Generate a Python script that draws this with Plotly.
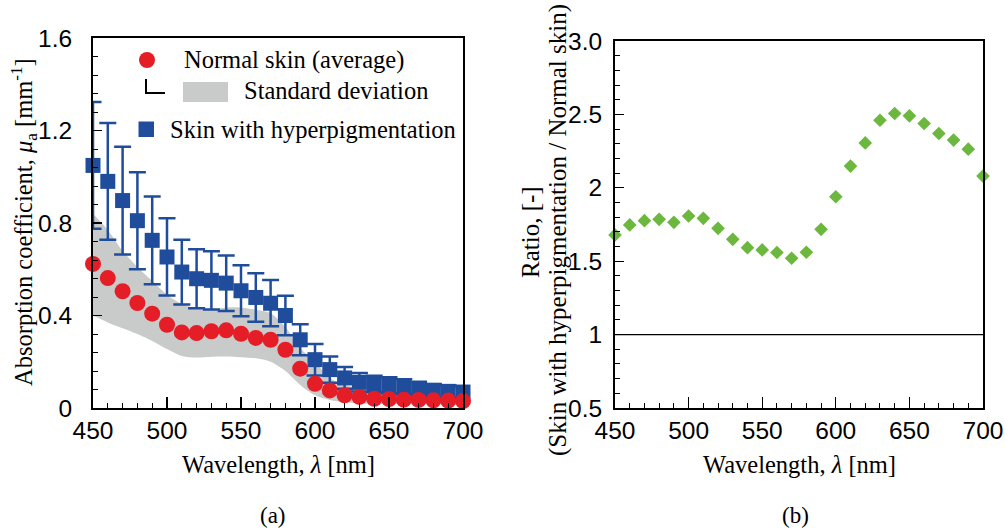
import plotly.graph_objects as go

# ---------------- data ----------------
wavelength = [450, 460, 470, 480, 490, 500, 510, 520, 530, 540, 550, 560, 570,
              580, 590, 600, 610, 620, 630, 640, 650, 660, 670, 680, 690, 700]

normal_mean = [0.623, 0.562, 0.505, 0.454, 0.408, 0.360, 0.327, 0.324, 0.332, 0.336,
               0.321, 0.303, 0.295, 0.252, 0.170, 0.105, 0.076, 0.055, 0.048, 0.040,
               0.039, 0.036, 0.035, 0.033, 0.032, 0.030]

normal_sd_upper = [0.84, 0.77, 0.68, 0.61, 0.55, 0.49, 0.45, 0.43, 0.425, 0.435,
                   0.435, 0.425, 0.41, 0.35, 0.26, 0.20, 0.13, 0.10, 0.085, 0.075,
                   0.07, 0.065, 0.06, 0.058, 0.055, 0.052]
normal_sd_lower = [0.40, 0.37, 0.345, 0.32, 0.29, 0.255, 0.225, 0.218, 0.222, 0.223,
                   0.22, 0.215, 0.20, 0.16, 0.10, 0.055, 0.035, 0.025, 0.02, 0.018,
                   0.017, 0.016, 0.015, 0.015, 0.015, 0.015]

hyper_mean = [1.049, 0.980, 0.897, 0.810, 0.725, 0.653, 0.588, 0.559, 0.552, 0.540,
              0.507, 0.478, 0.453, 0.400, 0.295, 0.209, 0.166, 0.130, 0.111, 0.104,
              0.098, 0.091, 0.084, 0.076, 0.072, 0.069]
hyper_sd = [0.274, 0.252, 0.233, 0.210, 0.190, 0.167, 0.140, 0.128, 0.126, 0.120,
            0.110, 0.105, 0.100, 0.085, 0.067, 0.068, 0.057, 0.047, 0.040, 0.036,
            0.035, 0.033, 0.030, 0.028, 0.025, 0.025]

ratio = [1.679, 1.747, 1.776, 1.785, 1.765, 1.808, 1.792, 1.724, 1.649, 1.592,
         1.577, 1.559, 1.520, 1.561, 1.717, 1.939, 2.148, 2.306, 2.460, 2.506,
         2.490, 2.438, 2.370, 2.325, 2.263, 2.080]

x_ticks = [450, 500, 550, 600, 650, 700]
x_ticktext = ["450", "500", "550", "600", "650", "700"]
y1_ticks = [0, 0.4, 0.8, 1.2, 1.6]
y1_ticktext = ["0", "0.4", "0.8", "1.2", "1.6"]
y2_ticks = [0.5, 1.0, 1.5, 2.0, 2.5, 3.0]
y2_ticktext = ["0.5", "1", "1.5", "2", "2.5", "3.0"]

# ---------------- styling ----------------
RED = "#e41d26"
BLUE = "#1f4d9c"
GREEN = "#6cb83f"
GRAY = "#c9caca"
SANS = "Liberation Sans, Arial, sans-serif"
SERIF = "Liberation Serif, Times New Roman, serif"
W, H = 1005, 529


def px(x):
    return x / W


def py(y):
    return 1 - y / H


fig = go.Figure()

# standard deviation band
fig.add_trace(go.Scatter(x=wavelength, y=normal_sd_lower, mode="lines",
                         line=dict(width=0, color=GRAY, shape="spline", smoothing=0.8),
                         hoverinfo="skip", showlegend=False, xaxis="x", yaxis="y"))
fig.add_trace(go.Scatter(x=wavelength, y=normal_sd_upper, mode="lines", fill="tonexty",
                         fillcolor=GRAY,
                         line=dict(width=0, color=GRAY, shape="spline", smoothing=0.8),
                         hoverinfo="skip", showlegend=False, xaxis="x", yaxis="y"))

# hyperpigmentation with error bars
fig.add_trace(go.Scatter(x=wavelength, y=hyper_mean, mode="markers",
                         marker=dict(symbol="square", size=15, color=BLUE),
                         error_y=dict(type="data", array=hyper_sd, visible=True,
                                      color=BLUE, thickness=2.5, width=8.5),
                         cliponaxis=False, showlegend=False, xaxis="x", yaxis="y"))

# normal skin mean
fig.add_trace(go.Scatter(x=wavelength, y=normal_mean, mode="markers",
                         marker=dict(symbol="circle", size=16, color=RED),
                         cliponaxis=False, showlegend=False, xaxis="x", yaxis="y"))

# ratio
fig.add_trace(go.Scatter(x=wavelength, y=ratio, mode="markers",
                         marker=dict(symbol="diamond", size=10.5, color=GREEN),
                         cliponaxis=False, showlegend=False, xaxis="x2", yaxis="y2"))

axis_common = dict(
    showline=True, linecolor="black", linewidth=2, mirror=True,
    ticks="inside", tickcolor="black", tickwidth=1.2,
    showgrid=False, zeroline=False, automargin=False,
    tickfont=dict(family=SANS, size=24.5, color="black"),
)

fig.update_layout(
    template="none",
    width=W, height=H,
    margin=dict(l=0, r=0, t=0, b=0, pad=0, autoexpand=False),
    paper_bgcolor="white", plot_bgcolor="white",
    showlegend=False,
    xaxis=dict(domain=[px(93), px(463)], range=[450, 700], anchor="y",
               tickvals=x_ticks, ticktext=x_ticktext, ticklen=11,
               minor=dict(dtick=10, tick0=450, ticks="inside", ticklen=5,
                          tickcolor="black", tickwidth=1),
               ticklabelstandoff=0, **axis_common),
    yaxis=dict(domain=[py(408), py(38)], range=[0, 1.6], anchor="x",
               tickvals=y1_ticks, ticktext=y1_ticktext, ticklen=9,
               minor=dict(dtick=0.08, tick0=0, ticks="inside", ticklen=5,
                          tickcolor="black", tickwidth=1),
               ticklabelstandoff=14, **axis_common),
    xaxis2=dict(domain=[px(615), px(983)], range=[450, 700], anchor="y2",
                tickvals=x_ticks, ticktext=x_ticktext, ticklen=11,
                minor=dict(dtick=10, tick0=450, ticks="inside", ticklen=5,
                           tickcolor="black", tickwidth=1),
                ticklabelstandoff=0, **axis_common),
    yaxis2=dict(domain=[py(408), py(41)], range=[0.5, 3.0], anchor="x2",
                tickvals=y2_ticks, ticktext=y2_ticktext, ticklen=9,
                minor=dict(dtick=0.1, tick0=0.5, ticks="inside", ticklen=5,
                           tickcolor="black", tickwidth=1),
                ticklabelstandoff=6, **axis_common),
)

# reference line at ratio = 1
fig.add_shape(type="line", xref="x2 domain", yref="y2", x0=0, x1=1, y0=1, y1=1,
              line=dict(color="black", width=1.2))

# ---------------- custom legend (panel a) ----------------
fig.add_shape(type="circle", xref="paper", yref="paper",
              x0=px(139), x1=px(155), y0=py(68), y1=py(52),
              fillcolor=RED, line=dict(width=0))
fig.add_shape(type="path", xref="paper", yref="paper",
              path=f"M {px(146)} {py(79)} L {px(146)} {py(93)} L {px(165)} {py(93)}",
              line=dict(color="black", width=2))
fig.add_shape(type="rect", xref="paper", yref="paper",
              x0=px(183), x1=px(228), y0=py(102), y1=py(82),
              fillcolor=GRAY, line=dict(width=0))
fig.add_shape(type="rect", xref="paper", yref="paper",
              x0=px(138.5), x1=px(154), y0=py(137), y1=py(121.5),
              fillcolor=BLUE, line=dict(width=0))

legend_font = dict(family=SERIF, size=24.5, color="black")
fig.add_annotation(text="Normal skin (average)", xref="paper", yref="paper",
                   x=px(182), y=py(60), xanchor="left", yanchor="middle",
                   showarrow=False, font=legend_font)
fig.add_annotation(text="Standard deviation", xref="paper", yref="paper",
                   x=px(242), y=py(91), xanchor="left", yanchor="middle",
                   showarrow=False, font=legend_font)
fig.add_annotation(text="Skin with hyperpigmentation", xref="paper", yref="paper",
                   x=px(168), y=py(129), xanchor="left", yanchor="middle",
                   showarrow=False, font=legend_font)

# ---------------- axis titles ----------------
title_font = dict(family=SERIF, size=24.5, color="black")
fig.add_annotation(text="Wavelength, <i>λ</i> [nm]", xref="paper", yref="paper",
                   x=px(278), y=py(464), xanchor="center", yanchor="middle",
                   showarrow=False, font=title_font)
fig.add_annotation(text="Wavelength, <i>λ</i> [nm]", xref="paper", yref="paper",
                   x=px(799), y=py(464), xanchor="center", yanchor="middle",
                   showarrow=False, font=title_font)
fig.add_annotation(text="Absorption coefficient, <i>μ</i><sub>a</sub> [mm<sup>-1</sup>]",
                   xref="paper", yref="paper", x=px(24), y=py(222),
                   xanchor="center", yanchor="middle", textangle=-90,
                   showarrow=False, font=title_font)
fig.add_annotation(text="Ratio, [-]", xref="paper", yref="paper", x=px(531), y=py(232),
                   xanchor="center", yanchor="middle", textangle=-90,
                   showarrow=False, font=dict(family=SERIF, size=25, color="black"))
fig.add_annotation(text="(Skin with hyperpigmentation / Normal skin)",
                   xref="paper", yref="paper", x=px(558), y=py(230),
                   xanchor="center", yanchor="middle", textangle=-90,
                   showarrow=False, font=dict(family=SERIF, size=25, color="black"))

# panel captions
cap_font = dict(family=SERIF, size=23, color="black")
fig.add_annotation(text="(a)", xref="paper", yref="paper", x=px(273), y=py(515),
                   xanchor="center", yanchor="middle", showarrow=False, font=cap_font)
fig.add_annotation(text="(b)", xref="paper", yref="paper", x=px(795), y=py(515),
                   xanchor="center", yanchor="middle", showarrow=False, font=cap_font)

fig.write_html(
    "out.html",
    config={"displayModeBar": False, "staticPlot": True},
    post_script="document.body.style.margin='0';document.body.style.overflow='hidden';",
)
